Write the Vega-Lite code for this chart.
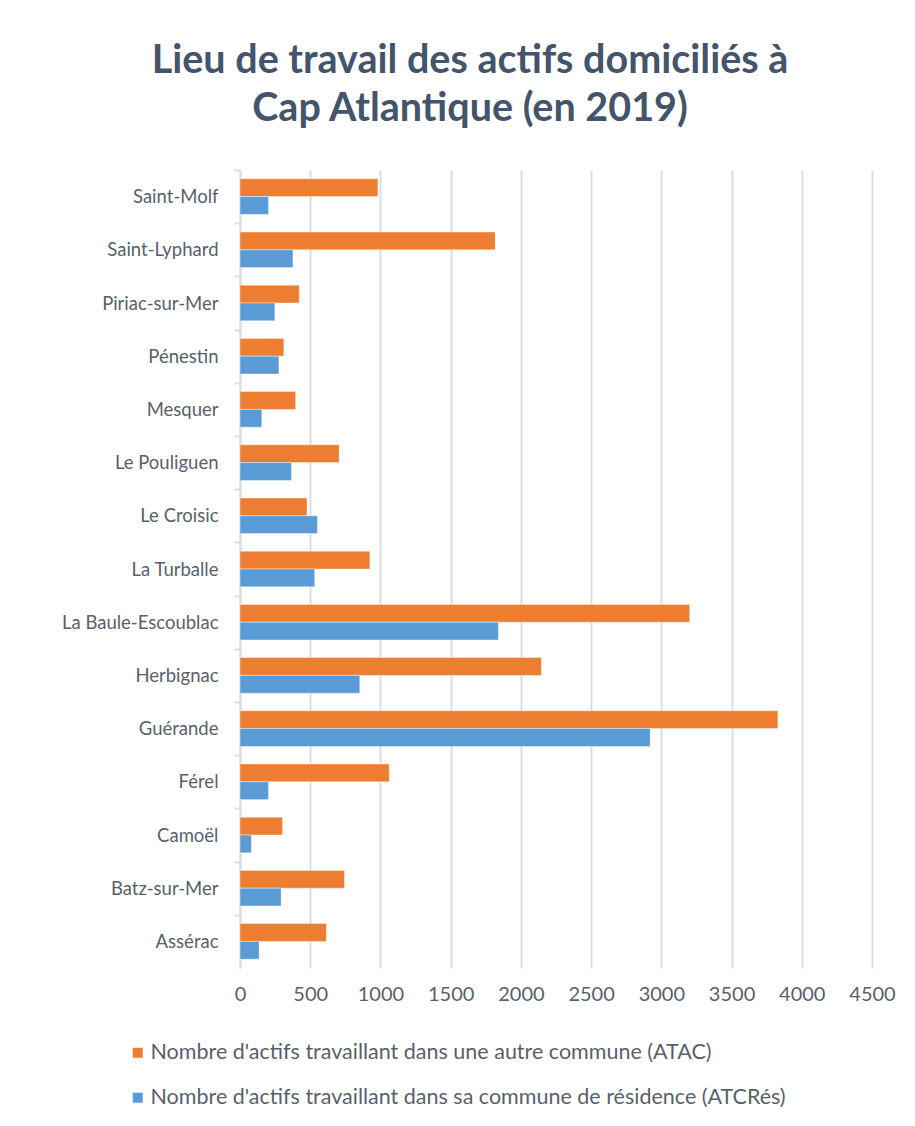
{
  "$schema": "https://vega.github.io/schema/vega-lite/v6.json",
  "width": 632,
  "height": 798,
  "autosize": "none",
  "padding": {"left": 240, "top": 170, "right": 43, "bottom": 158},
  "background": "white",
  "title": {
    "text": ["Lieu de travail des actifs domiciliés à", "Cap Atlantique (en 2019)"],
    "font": "Lato",
    "fontSize": 39.5,
    "fontWeight": "bold",
    "color": "#44546A",
    "anchor": "middle",
    "frame": "group",
    "dx": -86,
    "offset": 40,
    "lineHeight": 48
  },
  "data": {
    "values": [
      {"commune": "Saint-Molf", "serie": "Nombre d'actifs travaillant dans une autre commune (ATAC)", "valeur": 982},
      {"commune": "Saint-Molf", "serie": "Nombre d'actifs travaillant dans sa commune de résidence (ATCRés)", "valeur": 203},
      {"commune": "Saint-Lyphard", "serie": "Nombre d'actifs travaillant dans une autre commune (ATAC)", "valeur": 1817},
      {"commune": "Saint-Lyphard", "serie": "Nombre d'actifs travaillant dans sa commune de résidence (ATCRés)", "valeur": 377},
      {"commune": "Piriac-sur-Mer", "serie": "Nombre d'actifs travaillant dans une autre commune (ATAC)", "valeur": 422},
      {"commune": "Piriac-sur-Mer", "serie": "Nombre d'actifs travaillant dans sa commune de résidence (ATCRés)", "valeur": 248},
      {"commune": "Pénestin", "serie": "Nombre d'actifs travaillant dans une autre commune (ATAC)", "valeur": 312},
      {"commune": "Pénestin", "serie": "Nombre d'actifs travaillant dans sa commune de résidence (ATCRés)", "valeur": 277},
      {"commune": "Mesquer", "serie": "Nombre d'actifs travaillant dans une autre commune (ATAC)", "valeur": 396},
      {"commune": "Mesquer", "serie": "Nombre d'actifs travaillant dans sa commune de résidence (ATCRés)", "valeur": 155},
      {"commune": "Le Pouliguen", "serie": "Nombre d'actifs travaillant dans une autre commune (ATAC)", "valeur": 706},
      {"commune": "Le Pouliguen", "serie": "Nombre d'actifs travaillant dans sa commune de résidence (ATCRés)", "valeur": 367},
      {"commune": "Le Croisic", "serie": "Nombre d'actifs travaillant dans une autre commune (ATAC)", "valeur": 477},
      {"commune": "Le Croisic", "serie": "Nombre d'actifs travaillant dans sa commune de résidence (ATCRés)", "valeur": 551},
      {"commune": "La Turballe", "serie": "Nombre d'actifs travaillant dans une autre commune (ATAC)", "valeur": 925},
      {"commune": "La Turballe", "serie": "Nombre d'actifs travaillant dans sa commune de résidence (ATCRés)", "valeur": 532},
      {"commune": "La Baule-Escoublac", "serie": "Nombre d'actifs travaillant dans une autre commune (ATAC)", "valeur": 3202},
      {"commune": "La Baule-Escoublac", "serie": "Nombre d'actifs travaillant dans sa commune de résidence (ATCRés)", "valeur": 1840},
      {"commune": "Herbignac", "serie": "Nombre d'actifs travaillant dans une autre commune (ATAC)", "valeur": 2146},
      {"commune": "Herbignac", "serie": "Nombre d'actifs travaillant dans sa commune de résidence (ATCRés)", "valeur": 853},
      {"commune": "Guérande", "serie": "Nombre d'actifs travaillant dans une autre commune (ATAC)", "valeur": 3830},
      {"commune": "Guérande", "serie": "Nombre d'actifs travaillant dans sa commune de résidence (ATCRés)", "valeur": 2920},
      {"commune": "Férel", "serie": "Nombre d'actifs travaillant dans une autre commune (ATAC)", "valeur": 1063},
      {"commune": "Férel", "serie": "Nombre d'actifs travaillant dans sa commune de résidence (ATCRés)", "valeur": 203},
      {"commune": "Camoël", "serie": "Nombre d'actifs travaillant dans une autre commune (ATAC)", "valeur": 303},
      {"commune": "Camoël", "serie": "Nombre d'actifs travaillant dans sa commune de résidence (ATCRés)", "valeur": 81},
      {"commune": "Batz-sur-Mer", "serie": "Nombre d'actifs travaillant dans une autre commune (ATAC)", "valeur": 744},
      {"commune": "Batz-sur-Mer", "serie": "Nombre d'actifs travaillant dans sa commune de résidence (ATCRés)", "valeur": 293},
      {"commune": "Assérac", "serie": "Nombre d'actifs travaillant dans une autre commune (ATAC)", "valeur": 615},
      {"commune": "Assérac", "serie": "Nombre d'actifs travaillant dans sa commune de résidence (ATCRés)", "valeur": 136}
    ]
  },
  "mark": {"type": "bar", "stroke": "white", "strokeOpacity": 0.4, "strokeWidth": 1},
  "encoding": {
    "y": {
      "field": "commune",
      "type": "nominal",
      "sort": null,
      "scale": {"paddingInner": 0.33, "paddingOuter": 0.165},
      "axis": {
        "title": null,
        "labelFont": "Lato",
        "labelFontSize": 18.5,
        "labelColor": "#595F6B",
        "labelPadding": 16,
        "domainColor": "#D9DDE4",
        "domainWidth": 2,
        "tickColor": "#D9DDE4",
        "tickWidth": 2,
        "tickSize": 6,
        "tickOffset": -26.6,
        "labelOffset": 26.6,
        "grid": false
      }
    },
    "yOffset": {
      "field": "serie",
      "type": "nominal",
      "sort": null,
      "scale": {"domain": ["Nombre d'actifs travaillant dans une autre commune (ATAC)", "Nombre d'actifs travaillant dans sa commune de résidence (ATCRés)"]}
    },
    "x": {
      "field": "valeur",
      "type": "quantitative",
      "scale": {"domain": [0, 4500], "nice": false},
      "axis": {
        "title": null,
        "values": [0, 500, 1000, 1500, 2000, 2500, 3000, 3500, 4000, 4500],
        "format": "d",
        "labelFont": "Lato",
        "labelFontSize": 20,
        "labelColor": "#595F6B",
        "labelPadding": 16,
        "labelFlush": false,
        "labelOverlap": false,
        "domain": false,
        "ticks": false,
        "grid": true,
        "gridColor": "#D9DDE4",
        "gridWidth": 2
      }
    },
    "color": {
      "field": "serie",
      "type": "nominal",
      "scale": {
        "domain": ["Nombre d'actifs travaillant dans une autre commune (ATAC)", "Nombre d'actifs travaillant dans sa commune de résidence (ATCRés)"],
        "range": ["#ED7D31", "#5B9BD5"]
      },
      "legend": {
        "title": null,
        "orient": "none",
        "direction": "vertical",
        "legendX": -113,
        "legendY": 872,
        "symbolType": "square",
        "symbolSize": 100,
        "symbolStrokeWidth": 0,
        "labelFont": "Lato",
        "labelFontSize": 21.5,
        "labelColor": "#595F6B",
        "labelLimit": 800,
        "labelOffset": 2,
        "rowPadding": 22
      }
    }
  },
  "config": {"view": {"stroke": null}}
}
